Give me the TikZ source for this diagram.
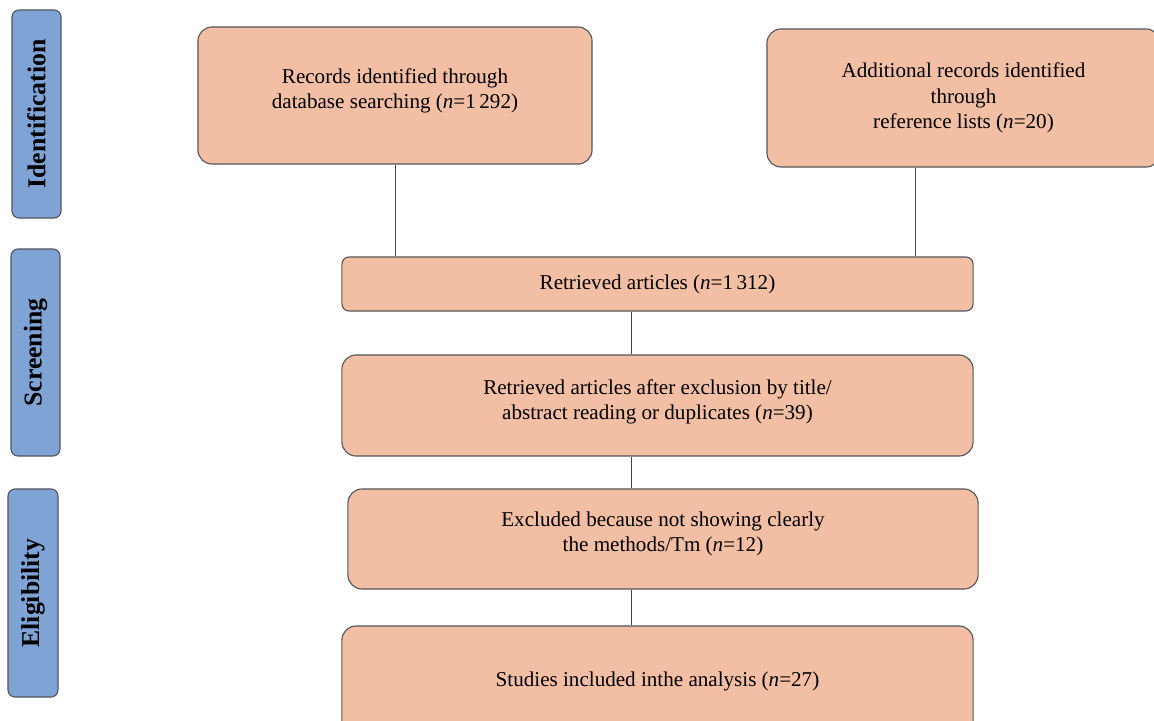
\documentclass[tikz,border=0pt]{standalone}
\usepackage{fontspec}
\setmainfont{Liberation Serif}
\definecolor{boxfill}{RGB}{242, 190, 164}
\definecolor{phasefill}{RGB}{127, 163, 213}
\definecolor{edge}{RGB}{84, 86, 92}
\usetikzlibrary{positioning, calc}
\tikzset{
	stage/.style={rectangle, rounded corners=10pt, draw=edge, fill=boxfill, line width=0.8pt, align=center, font=\fontsize{15}{18}\selectfont},
	flatstage/.style={stage, rounded corners=5pt},
	phase/.style={rectangle, rounded corners=5pt, draw=edge, fill=phasefill, line width=0.8pt, rotate=90, font=\fontsize{18.3}{21}\selectfont\bfseries},
	link/.style={draw=edge!80!black, line width=0.6pt},
}
\begin{document}
\begin{tikzpicture}[x=0.025cm, y=-0.025cm]
		\useasboundingbox (0,0) rectangle (1154,721);
		\clip (0,0) rectangle (1154,721);
		% phases on the left
		\node[phase, minimum width=5.2cm, minimum height=1.225cm] (ident) at (36.5,114) {Identification};
		\node[phase, minimum width=5.175cm, minimum height=1.225cm] (screen) at (35.5,352.5) {Screening};
		\node[phase, minimum width=5.2cm, minimum height=1.25cm] (elig) at (33,593) {Eligibility};
		% flow boxes
		\node[stage, minimum width=9.85cm, minimum height=3.425cm] (rec) at (395,95.5) {Records identified through\\database searching (\textit{n}=1\,292)\\[-0.28cm]};
		\node[stage, minimum width=9.825cm, minimum height=3.45cm] (extra) at (963.5,98) {Additional records identified\\through\\reference lists (\textit{n}=20)};
		\node[flatstage, minimum width=15.775cm, minimum height=1.35cm] (retrieved) at (657.5,284) {Retrieved articles (\textit{n}=1\,312)};
		\node[stage, minimum width=15.775cm, minimum height=2.525cm] (screened) at (657.5,405.5) {Retrieved articles after exclusion by title/\\abstract reading or duplicates (\textit{n}=39)\\[-0.35cm]};
		\node[stage, minimum width=15.75cm, minimum height=2.5cm] (excluded) at (663,539) {Excluded because not showing clearly\\the methods/Tm (\textit{n}=12)\\[-0.28cm]};
		\node[stage, minimum width=15.775cm, minimum height=2.75cm] (included) at (657.5,681) {Studies included inthe analysis (\textit{n}=27)};
		\coordinate (spine) at (631,300);
		% connectors
		\draw[link] (rec.south) -- (rec.south |- retrieved.north);
		\draw[link] ([xshift=-1.2cm]extra.south) -- ([xshift=-1.2cm]extra.south |- retrieved.north);
		\draw[link] (retrieved.south -| spine) -- (screened.north -| spine);
		\draw[link] (screened.south -| spine) -- (excluded.north -| spine);
		\draw[link] (excluded.south -| spine) -- (included.north -| spine);
	\end{tikzpicture}
\end{document}
